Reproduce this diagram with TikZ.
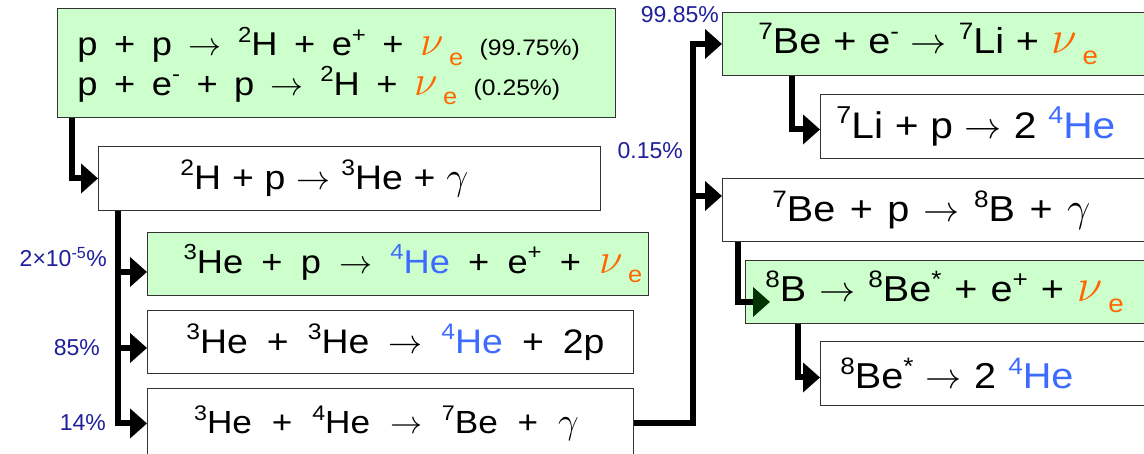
\RequirePackage{fix-cm}
\documentclass[tikz,border=0pt]{standalone}
\usepackage{fontspec}
\setmainfont[FakeStretch=1.1]{Liberation Sans}
\newfontfamily\lblfont{Liberation Sans}
\usetikzlibrary{arrows.meta}
\definecolor{boxgreen}{HTML}{CCFFCC}
\definecolor{nuorange}{HTML}{FF6600}
\definecolor{heblue}{HTML}{3D6BFF}
\definecolor{lblblue}{HTML}{1F1F99}
\definecolor{dkgreen}{HTML}{003300}
\definecolor{edgegray}{HTML}{333333}
\newdimen\fsd
\fsd=30pt
\newcommand{\setfs}[2]{\fsd=#1pt\relax\fontsize{\fsd}{1.2\fsd}\selectfont\spaceskip=#2em\relax}
\newcommand{\sps}[1]{\spaceskip=#1em\relax}
\newcommand{\fsx}[1]{\fontsize{#1\fsd}{#1\fsd}\selectfont}
\newcommand{\up}[1]{\raisebox{0.4em}{\fsx{0.66}#1}}
\newcommand{\nue}{\textcolor{nuorange}{{\fsx{1.3}$\nu$}\,\raisebox{-0.3em}{\fsx{0.7}e}}}
\newcommand{\hefour}{\textcolor{heblue}{\up{4}He}}
\newcommand{\gam}{{\fsx{1.15}$\gamma$}}
\newcommand{\ra}{$\rightarrow$}
\newcommand{\smalltxt}[1]{{\fsx{0.68}#1}}
\begin{document}
\begin{tikzpicture}[x=1pt,y=-1pt,
  box/.style={draw=edgegray, line width=0.9pt, anchor=north west, inner ysep=0pt},
  gbox/.style={box, fill=boxgreen},
  conn/.style={line width=6pt, -{Triangle[length=17pt,width=29pt]}},
  lbl/.style={text=lblblue, font=\lblfont\fontsize{23}{23}\selectfont, inner sep=0pt}]
\useasboundingbox (0,0) rectangle (1144,453);
% left column
\node[gbox, minimum height=109pt, text width=518pt, inner xsep=20pt, align=left,
  text height=47pt, text depth=62pt, font={\setfs{33}{0.5}}] (b1) at (57,8)
  {\sps{0.5}p + p \ra\ \up{2}H + e\up{+} + \nue\ \smalltxt{(99.75\%)}\\[0pt]
   \sps{0.5}p + e\up{-} + p \ra\ \up{2}H + \nue\ \smalltxt{(0.25\%)}};
\node[box, minimum width=502pt, minimum height=64pt, inner xsep=0pt,
  font={\setfs{34}{0.32}}] (b2) at (98,146)
  {\up{2}H + p \ra\ \up{3}He + \gam\hspace*{50pt}};
\node[gbox, minimum width=501pt, minimum height=63pt, inner xsep=0pt,
  font={\setfs{33}{0.55}}] (b3) at (147,232)
  {\hspace*{30pt}\up{3}He + p \ra\ \hefour\ + e\up{+} + \nue};
\node[box, minimum width=486pt, minimum height=63pt, inner xsep=0pt,
  font={\setfs{34}{0.56}}] (b4) at (147,310)
  {\hspace*{10pt}\up{3}He + \up{3}He \ra\ \hefour\ + 2p};
\node[box, minimum width=486pt, minimum height=70pt, inner xsep=0pt,
  font={\setfs{32}{0.62}}] (b5) at (147,388)
  {\up{3}He + \up{4}He \ra\ \up{7}Be + \gam\hspace*{8pt}};
% right column
\node[gbox, minimum height=63pt, text width=370pt, inner xsep=36pt, align=left,
  font={\setfs{36}{0.33}}] (b6) at (722,12)
  {\sps{0.33}\up{7}Be + e\up{-} \ra\ \up{7}Li + \nue};
\node[box, minimum height=64pt, text width=300pt, inner xsep=16pt, align=left,
  font={\setfs{37}{0.32}}] (b7) at (820,94)
  {\sps{0.32}\up{7}Li + p \ra\ 2 \hefour};
\node[box, minimum height=63pt, text width=340pt, inner xsep=50pt, align=left,
  font={\setfs{36}{0.4}}] (b8) at (722,178)
  {\sps{0.4}\up{7}Be + p \ra\ \up{8}B + \gam};
\node[gbox, minimum height=63pt, text width=380pt, inner xsep=20pt, align=left,
  font={\setfs{36}{0.36}}] (b9) at (745,260)
  {\sps{0.36}\up{8}B \ra\ \up{8}Be\up{*} + e\up{+} + \nue};
\node[box, minimum height=64pt, text width=300pt, inner xsep=20pt, align=left,
  font={\setfs{36}{0.34}}] (b10) at (820,341)
  {\sps{0.34}\up{8}Be\up{*} \ra\ 2 \hefour};
% connectors
\draw[conn] ([xshift=15pt]b1.south west) |- (b2.west);
\draw[conn] ([xshift=20pt]b2.south west) |- ([yshift=-8pt]b3.west);
\draw[conn] ([xshift=20pt]b2.south west) |- ([yshift=-6pt]b4.west);
\draw[conn] ([xshift=20pt]b2.south west) |- (b5.west);
\coordinate (turn) at ([xshift=59pt]b5.east);
\draw[conn] (b5.east) -- (turn) |- (b6.west);
\draw[conn] (b5.east) -- (turn) |- ([yshift=14pt]b8.west);
\draw[conn] ([xshift=70pt]b6.south west) |- ([yshift=-3pt]b7.west);
\draw[line width=6pt, -{Triangle[length=17pt,width=29pt,color=dkgreen]}] ([xshift=16pt]b8.south west) |- ([xshift=25pt,yshift=-10pt]b9.west);
\draw[conn] ([xshift=53pt]b9.south west) |- ([yshift=-4pt]b10.west);
% labels
\node[lbl, anchor=east] (l1) at (107,257) {2\texttimes10\textsuperscript{-5}\%};
\node[lbl, anchor=east] (l2) at (100,348) {85\%};
\node[lbl, anchor=east] (l3) at (106,423) {14\%};
\node[lbl, anchor=east] (l4) at (719,15) {99.85\%};
\node[lbl, anchor=east] (l5) at (683,151) {0.15\%};
\end{tikzpicture}
\end{document}
